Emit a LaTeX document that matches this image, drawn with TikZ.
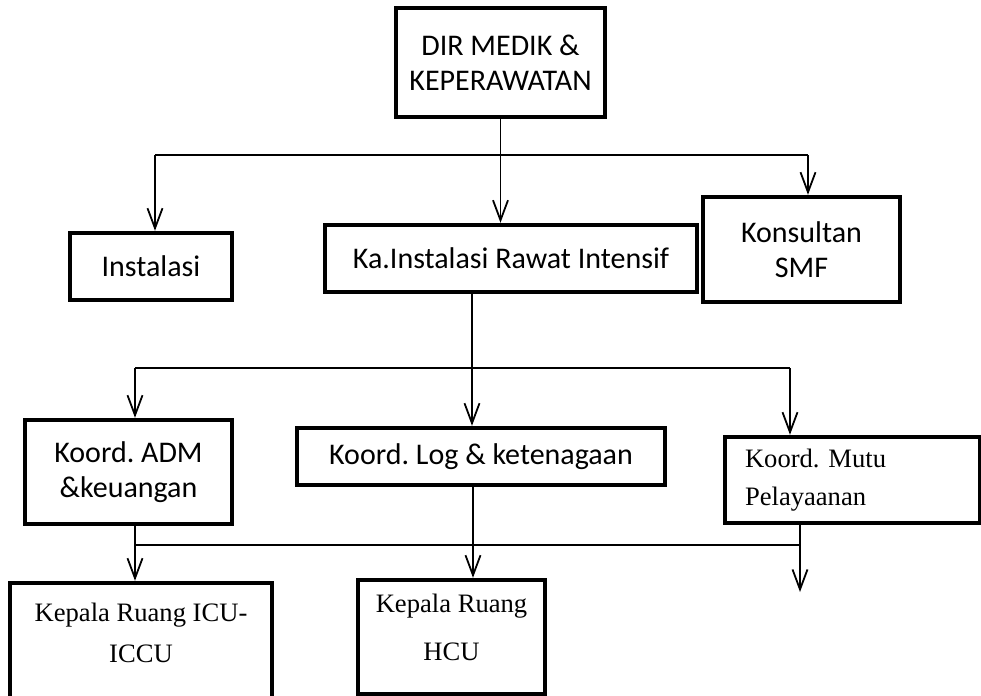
\documentclass[tikz,border=0pt]{standalone}
\usepackage{fontspec}
\setmainfont{Carlito}
\newfontfamily\timesfont{Liberation Serif}
\usetikzlibrary{arrows.meta}
\frenchspacing
\tikzset{
  box/.style={draw,line width=2.2pt,inner sep=0pt,align=center,
    font=\fontsize{15}{17.5}\selectfont},
  serifbox/.style={box,font=\timesfont\fontsize{13.3}{20.5}\selectfont},
  link/.style={line width=0.9pt},
  >={Straight Barb[length=10pt,width=7.5pt,line width=0.9pt]}
}
\begin{document}
\begin{tikzpicture}[x=0.5pt,y=-0.5pt]
\useasboundingbox (0,0) rectangle (981,696);
\clip (0,0) rectangle (981,696);
\node[box,minimum width=104.5pt,minimum height=54.5pt] (dir) at (500.5,62.5) {DIR MEDIK \&\\KEPERAWATAN};
\node[box,minimum width=81pt,minimum height=33.5pt] (inst) at (151,266.5) {Instalasi};
\node[box,minimum width=186pt,minimum height=33.5pt] (ka) at (511,258.5) {Ka.Instalasi Rawat Intensif};
\node[box,minimum width=98.5pt,minimum height=52.5pt] (kons) at (801.5,249.5) {Konsultan\\SMF};
\node[box,minimum width=103.5pt,minimum height=52pt] (adm) at (128.5,472) {Koord. ADM\\\&keuangan};
\node[box,minimum width=184pt,minimum height=28.5pt] (log) at (481,456.5) {Koord. Log \& ketenagaan};
\node[serifbox,font=\timesfont\fontsize{13.3}{19}\selectfont,align=left,text width=107.5pt,inner xsep=10pt,minimum height=43pt] (mutu) at (852.5,480) {Koord. Mutu\\Pelayaanan};
\node[serifbox,minimum width=131pt,minimum height=70pt] (icu) at (141,653) {Kepala Ruang ICU-\\ICCU\\~};
\node[serifbox,font=\timesfont\fontsize{13.3}{24}\selectfont,text depth=9.5pt,minimum width=93.5pt,minimum height=57pt] (hcu) at (451.5,637) {Kepala Ruang\\HCU};
% first level
\coordinate (tl) at (155,155);
\coordinate (tr) at (808,155);
\draw[link,->] (dir.south) -- (dir.south |- ka.north);
\draw[link] (tl) -- (tr);
\draw[link,->] (tl) -- (tl |- inst.north);
\draw[link,->] (tr) -- (tr |- kons.north);
% coordinators
\coordinate (ml) at (135,368);
\coordinate (mk) at (472,368);
\coordinate (mr) at (790,368);
\draw[link] (mk |- ka.south) -- (mk);
\draw[link] (ml) -- (mr);
\draw[link,->] (ml) -- (ml |- adm.north);
\draw[link,->] (mk) -- (mk |- log.north);
\draw[link,->] (mr) -- (mr |- mutu.north);
% heads of rooms
\coordinate (bl) at (135,545);
\coordinate (bm) at (473,545);
\coordinate (br) at (800,545);
\coordinate (bend) at (800,592);
\draw[link] (bl) -- (br);
\draw[link,->] (bl |- adm.south) -- (bl |- icu.north);
\draw[link,->] (bm |- log.south) -- (bm |- hcu.north);
\draw[link,->] (br |- mutu.south) -- (bend);
\end{tikzpicture}
\end{document}
